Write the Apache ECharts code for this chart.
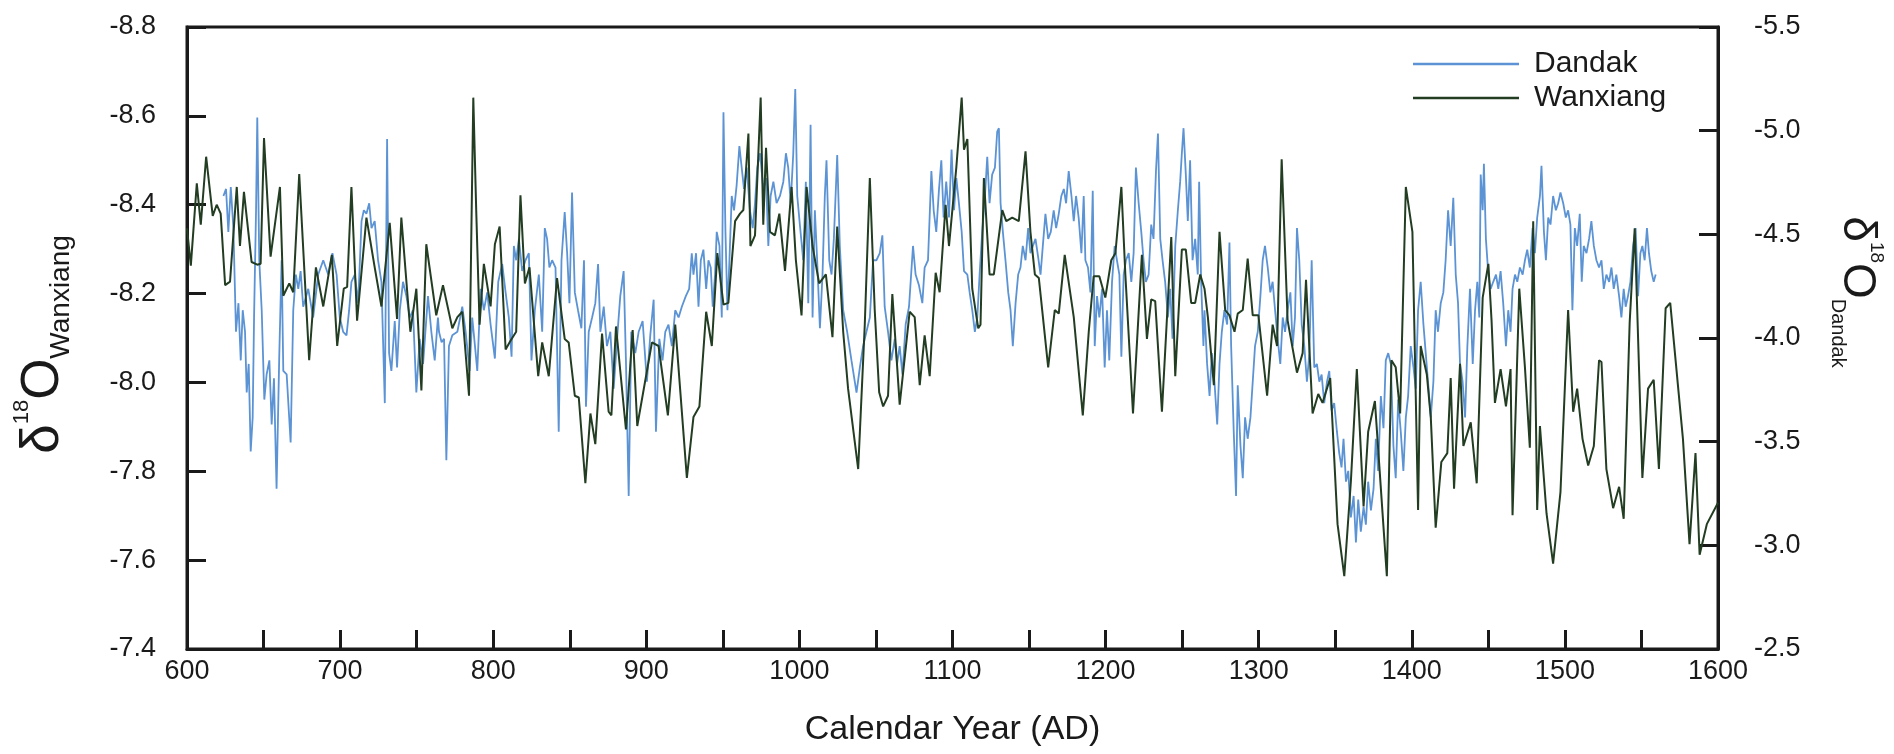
<!DOCTYPE html>
<html>
<head>
<meta charset="utf-8">
<script src="https://cdn.jsdelivr.net/npm/echarts@6/dist/echarts.min.js"></script>
<style>
html,body{margin:0;padding:0;background:#fff;}
#chart{width:1894px;height:754px;}
</style>
</head>
<body>
<div id="chart"></div>
<script>
// ---------- DATA ----------
const xTickYears = [600,700,800,900,1000,1100,1200,1300,1400,1500,1600];

const wanxiangYears = [600,602.5,606.4,609.0,612.5,616.8,619.4,622.0,624.9,628.1,632.5,634.6,637.2,642.2,645.9,648.1,650.3,654.6,660.7,662.9,666.8,669.4,673.3,679.8,684.2,689.0,694.6,698.1,702.4,704.6,707.4,711.1,717.2,722.6,727.0,732.4,737.2,740.0,745.9,749.8,753.1,756.3,762.8,
767.2,773.3,776.6,779.8,784.2,787.0,788.9,791.1,793.9,798.3,801.1,804.2,808.1,811.3,815.0,817.8,820.7,823.7,829.4,832.0,836.3,841.7,846.7,849.3,853.3,855.9,860.2,863.5,866.7,871.1,875.4,877.2,880.2,886.7,891.1,894.1,903.7,908.0,914.1,918.9,926.5,
930.8,934.7,939.1,942.8,946.4,950.4,953.6,958.0,961.2,963.4,966.7,968.0,971.0,974.7,976.4,978.2,980.8,984.0,986.9,990.6,994.9,997.7,1001.4,1004.7,1008.6,1012.9,1017.3,1021.6,1024.7,1028.6,1031.8,1038.4,1042.7,1046.0,1049.2,1052.1,1054.7,1057.9,1060.7,1065.5,1072.0,1075.3,1078.6,1081.8,1085.1,1089.0,1091.6,1095.5,
1097.7,1099.9,1102.5,1106.0,1107.5,1109.7,1112.9,1116.8,1118.3,1120.5,1124.2,1127.0,1132.5,1135.1,1139.0,1143.3,1147.7,1150.9,1153.8,1156.4,1162.5,1166.8,1169.4,1173.3,1179.2,1185.1,1189.0,1192.2,1195.9,1199.8,1203.7,1206.4,1210.3,1212.9,1217.9,1223.7,1227.0,1229.8,1232.4,1236.8,1242.9,1245.5,1249.8,1252.4,1255.9,1258.5,1261.8,
1264.6,1266.8,1270.7,1274.4,1278.1,1280.9,1284.2,1286.3,1289.6,1292.8,1296.1,1299.8,1305.5,1309.1,1312.0,1315.0,1318.9,1325.0,1328.7,1330.9,1335.2,1338.9,1341.7,1346.7,1351.5,1355.9,1360.2,1364.1,1368.5,1371.5,1375.9,1383.7,1386.7,1389.5,1392.4,1396.1,1400.4,1404.1,1405.8,1409.8,1412.4,1415.6,1419.3,1423.2,1425.4,1427.6,
1431.5,1433.7,1438.5,1442.4,1446.3,1450.0,1452.1,1454.3,1458.0,1461.5,1464.5,1465.8,1470.2,1473.9,1477.1,1479.3,1481.9,1483.7,1488.0,1492.3,1497.1,1502.1,1505.4,1508.0,1511.5,1515.2,1518.9,1522.3,1523.9,1527.1,1531.5,1535.4,1538.4,1542.3,1545.6,1550.6,1554.3,1558.0,1561.4,1565.8,1568.8,1577.1,1581.4,1585.3,1588.0,1592.7,1600];

const wanxiangValues = [-8.347,-8.263,-8.448,-8.355,-8.508,-8.375,-8.400,-8.380,-8.219,-8.227,-8.440,-8.307,-8.429,-8.271,-8.265,-8.267,-8.550,-8.283,-8.440,-8.195,-8.223,-8.203,-8.469,-8.050,-8.259,-8.171,-8.287,-8.082,-8.211,-8.215,-8.440,-8.139,-8.371,-8.259,-8.171,-8.359,-8.143,-8.371,-8.114,-8.211,-7.982,-8.311,-8.151,
-8.219,-8.122,-8.147,-8.159,-7.970,-8.641,-8.388,-8.130,-8.267,-8.171,-8.311,-8.351,-8.074,-8.094,-8.114,-8.421,-8.223,-8.259,-8.014,-8.090,-8.014,-8.235,-8.098,-8.090,-7.970,-7.966,-7.773,-7.930,-7.861,-8.110,-7.934,-7.926,-8.126,-7.894,-8.118,-7.902,-8.090,-8.082,-7.926,-8.130,-7.785,
-7.922,-7.946,-8.159,-8.082,-8.291,-8.175,-8.179,-8.363,-8.380,-8.388,-8.560,-8.307,-8.331,-8.641,-8.355,-8.528,-8.339,-8.331,-8.380,-8.251,-8.440,-8.275,-8.151,-8.440,-8.307,-8.223,-8.243,-8.102,-8.351,-8.114,-7.986,-7.805,-8.130,-8.460,-8.163,-7.978,-7.946,-7.970,-8.199,-7.950,-8.159,-8.147,-7.994,-8.106,-8.014,-8.247,-8.203,-8.400,
-8.307,-8.388,-8.484,-8.641,-8.524,-8.548,-8.211,-8.122,-8.130,-8.460,-8.243,-8.243,-8.388,-8.363,-8.371,-8.363,-8.520,-8.339,-8.243,-8.235,-8.034,-8.163,-8.155,-8.287,-8.147,-7.926,-8.114,-8.239,-8.239,-8.191,-8.275,-8.291,-8.440,-8.243,-7.930,-8.287,-8.098,-8.187,-8.183,-7.934,-8.327,-8.014,-8.299,-8.299,-8.179,-8.179,-8.243,
-8.211,-8.147,-7.994,-8.339,-8.163,-8.151,-8.114,-8.155,-8.163,-8.279,-8.151,-8.151,-7.970,-8.130,-8.082,-8.502,-8.139,-8.022,-8.066,-8.231,-7.930,-7.974,-7.954,-8.010,-7.681,-7.564,-7.777,-8.030,-7.721,-7.889,-7.958,-7.564,-8.050,-8.034,-7.930,-8.440,-8.339,-7.713,-8.082,-8.018,-7.922,-7.673,-7.821,-7.841,-8.010,-7.761,
-8.042,-7.857,-7.910,-7.773,-8.191,-8.267,-8.139,-7.954,-8.030,-7.946,-8.030,-7.701,-8.211,-8.034,-7.853,-8.363,-7.713,-7.902,-7.705,-7.592,-7.753,-8.163,-7.934,-7.986,-7.873,-7.813,-7.857,-8.050,-8.046,-7.805,-7.717,-7.765,-7.693,-8.134,-8.347,-7.785,-7.986,-8.006,-7.805,-8.167,-8.179,-7.873,-7.636,-7.841,-7.612,-7.681,-7.729];

const dandakYears = [623.8,625.5,627.0,628.6,630.3,632.0,633.6,635.1,636.4,637.9,639.0,640.3,641.6,642.9,643.8,645.1,645.9,647.2,648.8,650.5,652.0,653.8,655.3,656.8,658.5,660.3,661.8,662.9,665.1,667.7,669.4,671.1,672.7,674.2,675.9,679.2,682.4,685.7,689.0,692.2,695.0,697.7,699.8,702.0,704.2,705.9,707.4,709.6,711.8,714.0,715.5,717.2,719.0,720.5,722.6,724.8,727.0,729.2,730.7,732.0,733.5,735.7,737.2,739.0,741.1,743.3,745.5,747.6,749.8,752.0,754.2,757.4,759.6,761.8,763.9,
764.6,766.3,767.9,769.4,771.1,773.3,776.6,779.8,782.0,784.6,786.3,788.1,789.6,791.8,793.9,796.1,798.3,801.1,803.3,805.9,808.1,810.2,812.0,813.5,815.0,816.8,818.9,821.1,823.3,825.0,827.2,829.8,832.0,833.7,835.2,836.7,838.5,840.7,842.8,844.6,846.7,848.3,849.8,851.5,853.3,855.4,857.6,859.3,860.6,862.4,864.6,866.7,868.5,870.0,872.2,874.3,876.5,878.7,880.9,883.0,885.2,886.7,888.5,890.2,892.8,895.0,897.6,900.4,902.6,904.8,906.3,908.5,910.6,912.4,914.5,916.7,918.9,921.1,923.2,925.8,928.0,929.7,
930.8,932.5,934.1,935.6,937.3,939.1,940.6,942.1,943.4,944.9,946.0,947.8,949.3,950.4,951.7,953.0,954.3,955.8,957.3,959.0,960.8,962.3,963.8,965.6,967.7,969.5,971.0,972.5,974.3,976.4,978.2,979.7,981.2,983.0,985.1,987.3,989.5,991.2,992.7,994.3,996.0,997.3,998.6,1000.3,1002.5,1004.2,1005.8,1007.3,1008.6,1010.1,1011.6,1013.4,1015.1,1016.6,1017.7,1019.5,1021.0,1022.5,1024.7,1026.4,1028.6,1031.2,1034.0,1037.3,1039.5,1041.6,1043.8,1046.0,1048.1,1050.3,1052.5,1054.2,1055.7,1057.9,1060.1,1062.3,1063.8,1065.5,1067.3,1069.4,1071.6,1074.2,1075.9,1078.1,1080.3,1081.8,1084.0,1086.2,1087.7,1089.4,1091.2,1092.7,1094.2,1095.9,
1097.7,1099.4,1101.0,1102.5,1104.2,1106.0,1107.5,1109.7,1111.2,1112.9,1114.6,1116.2,1117.7,1119.4,1121.2,1122.7,1124.2,1125.9,1127.7,1129.2,1130.3,1131.4,1132.9,1134.6,1136.4,1137.9,1139.4,1141.2,1142.9,1144.4,1145.9,1147.7,1149.4,1150.9,1152.5,1154.2,1155.9,1157.5,1159.0,1160.7,1162.5,1164.2,1166.1,1167.7,1169.4,1171.1,1172.7,1174.2,1175.9,1177.7,1179.2,1180.7,1182.4,1184.2,1185.7,1186.8,1188.5,1190.1,1191.6,1192.9,1194.4,1195.9,1197.7,1199.4,1200.9,1202.4,1204.2,1205.9,1207.4,1209.0,1210.3,1211.8,1213.3,1215.1,1216.8,1218.3,1219.8,1221.6,1223.3,1224.8,1226.3,1228.1,1229.8,1231.3,1232.9,1234.2,1235.7,1237.2,1238.9,1240.7,1242.2,1243.7,1245.5,1247.2,1248.7,1249.8,1250.9,1252.4,1253.7,1255.2,1256.8,1258.5,1260.2,1261.1,1262.4,1263.9,
1264.6,1266.3,1267.9,1269.4,1271.1,1272.9,1274.4,1275.9,1277.6,1279.4,1280.9,1282.0,1283.7,1285.2,1286.3,1288.1,1289.6,1291.1,1292.8,1294.6,1296.1,1297.6,1299.4,1301.1,1302.6,1304.1,1305.9,1307.6,1309.1,1310.7,1312.4,1314.1,1315.7,1317.2,1318.9,1320.7,1322.2,1323.7,1325.0,1326.5,1328.1,1329.8,1331.5,1333.1,1334.6,1336.3,1338.0,1339.6,1341.1,1342.8,1344.6,1346.1,1347.6,1349.3,1351.1,1352.6,1354.1,1355.4,1357.0,1358.5,1360.2,1362.0,1363.5,1365.0,1366.7,1368.5,1370.0,1371.5,1373.3,1375.0,1376.5,1378.0,1379.8,1381.5,1383.0,1384.6,1386.3,1388.0,1389.5,1391.1,1392.8,1394.5,1396.1,1397.6,1399.3,1401.1,1402.6,1404.1,1405.8,1407.6,1409.1,1410.6,1412.4,1414.1,1415.6,1417.1,1418.9,1420.6,1422.1,1423.7,1425.4,1427.1,1428.7,1430.2,
1431.5,1433.2,1434.8,1436.3,1438.0,1439.8,1441.3,1442.8,1444.1,1445.0,1446.3,1447.1,1448.4,1450.0,1451.5,1453.2,1455.0,1456.5,1458.0,1459.7,1461.5,1463.0,1464.5,1465.8,1467.4,1468.9,1470.6,1472.4,1473.9,1475.4,1477.1,1478.9,1480.4,1481.9,1483.7,1484.7,1486.3,1487.6,1489.1,1490.6,1492.3,1494.1,1495.6,1497.1,1498.9,1500.6,1502.1,1503.6,1504.9,1506.5,1508.0,1509.7,1511.0,1512.3,1514.1,1515.8,1517.3,1518.9,1520.6,1522.3,1523.9,1525.4,1527.1,1528.9,1530.4,1531.9,1533.6,1535.4,1536.9,1538.4,1539.7,1541.2,1542.8,1544.5,1546.2,1547.8,1549.3,1550.6,1552.1,1553.6,1554.9,1556.4,1558.0,1559.3];

const dandakValues = [-4.685,-4.719,-4.512,-4.728,-4.530,-4.030,-4.168,-3.892,-4.134,-4.030,-3.737,-3.875,-3.453,-3.617,-4.099,-4.616,-5.063,-4.375,-4.134,-3.703,-3.824,-3.892,-3.583,-3.806,-3.273,-3.927,-4.375,-3.841,-3.824,-3.496,-4.134,-4.306,-4.237,-4.323,-4.151,-4.237,-4.099,-4.306,-4.375,-4.306,-4.409,-4.306,-4.099,-4.030,-4.013,-4.134,-4.271,-4.306,-4.168,-4.564,-4.616,-4.599,-4.650,-4.530,-4.564,-4.375,-4.271,-3.686,-4.960,-3.927,-3.841,-4.082,-3.858,-4.134,-4.271,-4.202,-4.099,-4.134,-3.737,-3.996,-3.875,-4.202,-4.030,-3.892,-4.099,
-4.030,-3.979,-3.996,-3.410,-3.961,-4.013,-4.030,-4.151,-4.030,-3.841,-4.099,-3.961,-3.841,-4.237,-4.134,-4.220,-4.065,-3.901,-4.271,-4.357,-4.220,-4.099,-3.910,-4.444,-4.375,-4.478,-4.323,-4.375,-4.409,-3.892,-4.134,-4.306,-4.030,-4.530,-4.478,-4.340,-4.375,-4.340,-3.548,-4.375,-4.607,-4.409,-4.168,-4.702,-4.220,-4.134,-4.047,-4.375,-3.669,-4.030,-4.099,-4.168,-4.357,-4.030,-4.151,-3.961,-4.030,-3.755,-3.996,-4.202,-4.323,-3.892,-3.238,-4.030,-3.927,-4.030,-4.082,-3.789,-4.013,-4.185,-3.548,-3.996,-3.892,-4.030,-4.065,-3.961,-4.134,-4.099,-4.151,-4.202,-4.237,-4.409,
-4.306,-4.409,-4.151,-4.375,-4.426,-4.237,-4.375,-4.340,-4.151,-4.306,-4.512,-4.444,-4.099,-5.089,-4.512,-4.134,-4.375,-4.685,-4.616,-4.736,-4.926,-4.822,-4.719,-4.822,-4.616,-4.530,-4.650,-4.822,-4.891,-4.719,-4.771,-4.444,-4.685,-4.754,-4.650,-4.685,-4.754,-4.891,-4.822,-4.650,-4.891,-5.201,-4.685,-4.547,-4.375,-4.754,-4.168,-5.029,-4.099,-4.616,-4.375,-4.047,-4.306,-4.685,-4.857,-4.375,-4.306,-4.478,-4.883,-4.444,-4.134,-4.030,-3.892,-3.737,-3.858,-3.961,-4.030,-4.099,-4.375,-4.375,-4.409,-4.495,-4.151,-4.030,-3.892,-3.996,-3.875,-3.961,-3.824,-4.065,-4.151,-4.444,-4.306,-4.254,-4.168,-4.340,-4.375,-4.805,-4.616,-4.512,-4.719,-4.857,-4.581,-4.754,
-4.581,-4.909,-4.616,-4.771,-4.650,-4.512,-4.323,-4.306,-4.220,-4.134,-4.030,-4.099,-4.306,-4.512,-4.685,-4.874,-4.650,-4.788,-4.822,-4.995,-5.012,-4.650,-4.512,-4.375,-4.220,-4.134,-3.961,-4.168,-4.306,-4.340,-4.444,-4.375,-4.530,-4.409,-4.444,-4.478,-4.392,-4.306,-4.444,-4.599,-4.478,-4.512,-4.616,-4.530,-4.599,-4.685,-4.719,-4.650,-4.805,-4.685,-4.564,-4.685,-4.581,-4.409,-4.685,-4.375,-4.340,-4.220,-4.710,-3.961,-4.202,-4.099,-4.237,-3.858,-4.134,-3.892,-4.271,-4.444,-4.375,-4.306,-3.910,-4.306,-4.375,-4.409,-4.271,-4.409,-4.822,-4.650,-4.512,-4.375,-4.271,-4.306,-4.547,-4.478,-4.805,-4.986,-4.478,-4.375,-4.271,-4.099,-4.237,-3.996,-4.444,-4.616,-4.754,-4.891,-5.012,-4.788,-4.564,-4.857,-4.375,-4.478,-4.306,-4.754,-4.271,-3.961,
-4.134,-3.875,-3.720,-3.927,-3.789,-3.583,-3.875,-4.030,-4.134,-4.065,-4.461,-3.961,-3.548,-3.238,-3.772,-3.479,-3.324,-3.617,-3.514,-3.617,-3.789,-3.961,-4.030,-4.202,-4.375,-4.444,-4.340,-4.220,-4.271,-4.134,-3.996,-3.875,-4.099,-4.030,-4.134,-4.220,-3.961,-4.099,-4.530,-4.375,-4.065,-3.961,-3.789,-3.927,-4.375,-3.858,-3.875,-3.789,-3.824,-3.686,-3.789,-3.841,-3.651,-3.686,-3.548,-3.445,-3.376,-3.514,-3.307,-3.359,-3.135,-3.238,-3.014,-3.221,-3.066,-3.186,-3.100,-3.307,-3.169,-3.272,-3.514,-3.359,-3.720,-3.565,-3.892,-3.927,-3.875,-3.479,-3.324,-3.703,-3.548,-3.359,-3.617,-3.720,-3.961,-3.858,-3.755,-4.134,-4.271,-4.065,-3.927,-3.789,-3.617,-3.789,-4.134,-4.030,-4.168,-4.220,-4.375,-4.616,-4.444,-4.676,-4.306,-4.168,
-3.875,-3.789,-3.617,-3.961,-4.237,-3.875,-4.134,-4.271,-4.099,-4.788,-4.616,-4.840,-4.478,-4.306,-4.237,-4.271,-4.306,-4.237,-4.323,-4.168,-3.961,-4.134,-4.030,-4.237,-4.306,-4.271,-4.340,-4.306,-4.375,-4.426,-4.340,-4.530,-4.409,-4.581,-4.685,-4.831,-4.512,-4.375,-4.581,-4.547,-4.685,-4.616,-4.650,-4.702,-4.650,-4.581,-4.616,-4.547,-4.134,-4.530,-4.444,-4.599,-4.271,-4.444,-4.409,-4.478,-4.564,-4.444,-4.375,-4.340,-4.375,-4.237,-4.306,-4.271,-4.340,-4.237,-4.306,-4.202,-4.099,-4.237,-4.151,-4.202,-4.271,-4.444,-4.530,-4.202,-4.409,-4.444,-4.375,-4.530,-4.409,-4.323,-4.271,-4.306];

// ---------- CHART ----------
const FONT = '"Liberation Sans", Arial, Helvetica, sans-serif';
const INK = '#1a1a1a';
const chart = echarts.init(document.getElementById('chart'), null, {renderer: 'canvas'});

const wanxiangData = wanxiangYears.map((y, i) => [y, wanxiangValues[i]]);
const dandakData = dandakYears.map((y, i) => [y, dandakValues[i]]);

const axisLineStyle = {color: INK, width: 3};

chart.setOption({
  animation: false,
  backgroundColor: '#ffffff',
  textStyle: {fontFamily: FONT},
  grid: {left: 187, right: 159, top: 27, bottom: 105, show: true, borderColor: INK, borderWidth: 3, backgroundColor: 'transparent'},
  legend: {
    orient: 'vertical', left: 1408, top: 44,
    icon: 'rect', itemWidth: 106, itemHeight: 2.5, itemGap: 4,
    textStyle: {fontFamily: FONT, fontSize: 30, color: INK, padding: [0, 0, 0, 10]},
    data: ['Dandak', 'Wanxiang']
  },
  xAxis: {
    type: 'value', min: 600, max: 1600, interval: 50,
    axisLine: {show: true, lineStyle: axisLineStyle},
    axisTick: {show: true, inside: true, length: 19, lineStyle: {color: INK, width: 3}},
    axisLabel: {
      fontFamily: FONT, fontSize: 27, color: INK, margin: 9,
      formatter: v => (xTickYears.indexOf(v) >= 0 ? String(v) : '')
    },
    splitLine: {show: false},
    name: 'Calendar Year (AD)', nameLocation: 'middle', nameGap: 64,
    nameTextStyle: {fontFamily: FONT, fontSize: 34, color: INK}
  },
  yAxis: [
    {
      type: 'value', position: 'left', inverse: true, min: -8.8, max: -7.4, interval: 0.2,
      axisLine: {show: true, lineStyle: axisLineStyle},
      axisTick: {show: true, inside: true, length: 19, lineStyle: {color: INK, width: 3}},
      axisLabel: {fontFamily: FONT, fontSize: 27, color: INK, margin: 31, formatter: v => v.toFixed(1)},
      splitLine: {show: false},
      name: '{d|δ}{s|18}{d|O}{w|Wanxiang}', nameLocation: 'middle', nameRotate: 90, nameGap: 112,
      nameTextStyle: {
        color: INK,
        padding: [0, 13, 0, 0],
        rich: {
          d: {fontFamily: FONT, fontSize: 53, lineHeight: 64, color: INK, verticalAlign: 'middle'},
          s: {fontFamily: FONT, fontSize: 22, lineHeight: 64, color: INK, verticalAlign: 'top'},
          w: {fontFamily: FONT, fontSize: 28, lineHeight: 64, color: INK, verticalAlign: 'bottom'}
        }
      }
    },
    {
      type: 'value', position: 'right', inverse: true, min: -5.5, max: -2.5, interval: 0.5,
      axisLine: {show: true, lineStyle: axisLineStyle},
      axisTick: {show: true, inside: true, length: 19, lineStyle: {color: INK, width: 3}},
      axisLabel: {fontFamily: FONT, fontSize: 27, color: INK, margin: 36, formatter: v => v.toFixed(1)},
      splitLine: {show: false},
      name: '{d|δ}{s|18}{d|O}{w|Dandak}', nameLocation: 'middle', nameRotate: -90, nameGap: 110,
      nameTextStyle: {
        color: INK,
        padding: [0, 92, 0, 0],
        rich: {
          d: {fontFamily: FONT, fontSize: 46, lineHeight: 58, color: INK, verticalAlign: 'middle'},
          s: {fontFamily: FONT, fontSize: 19, lineHeight: 58, color: INK, verticalAlign: 'top'},
          w: {fontFamily: FONT, fontSize: 20, lineHeight: 58, color: INK, verticalAlign: 'bottom'}
        }
      }
    }
  ],
  series: [
    {
      name: 'Dandak', type: 'line', yAxisIndex: 1, data: dandakData,
      symbol: 'none', showSymbol: false,
      lineStyle: {color: '#5b93d4', width: 1.8},
      itemStyle: {color: '#5b93d4'},
      z: 2
    },
    {
      name: 'Wanxiang', type: 'line', yAxisIndex: 0, data: wanxiangData,
      symbol: 'none', showSymbol: false,
      lineStyle: {color: '#223d22', width: 2},
      itemStyle: {color: '#223d22'},
      z: 3
    }
  ]
});
</script>
</body>
</html>
